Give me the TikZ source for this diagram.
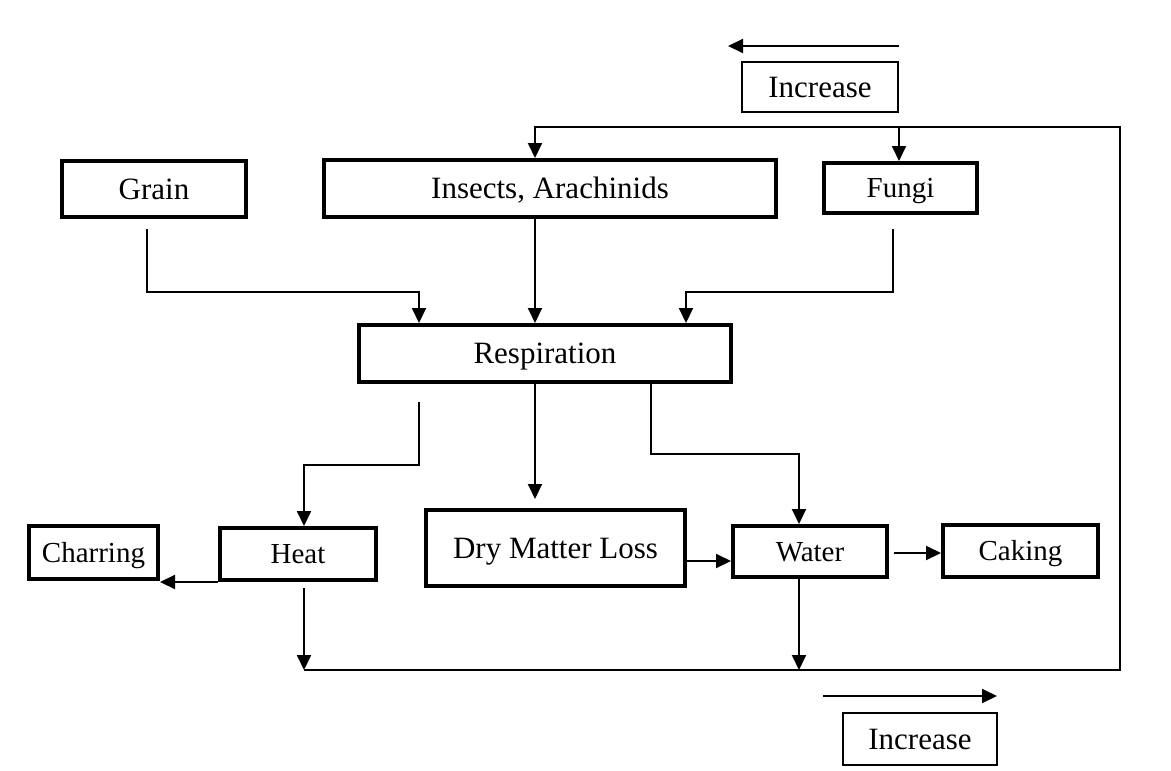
\documentclass[tikz,border=0pt]{standalone}
\usepackage{fontspec}
\setmainfont{Liberation Serif}
\usetikzlibrary{arrows.meta,calc}
\begin{document}
\begin{tikzpicture}[x=1pt,y=-1pt,
  box/.style={draw,line width=4pt,inner sep=0pt,font=\fontsize{31}{31}\selectfont,text height=20.5pt,text depth=0pt},
  sbox/.style={box,font=\fontsize{29}{29}\selectfont,text height=19.2pt},
  ibox/.style={draw,line width=2.5pt,inner sep=0pt,font=\fontsize{31}{31}\selectfont,text height=20.5pt,text depth=0pt},
  link/.style={line width=2pt},
  arr/.style={link,-{Triangle[length=15pt,width=14pt]}}]
\useasboundingbox[fill=white] (0,0) rectangle (1171,771);
% boxes
\node[ibox,minimum width=156pt,minimum height=50pt] (inctop) at (820,87) {Increase};
\node[box,minimum width=184pt,minimum height=56pt] (grain) at (154,189) {Grain};
\node[box,minimum width=452pt,minimum height=57pt] (ins) at (550,188.5) {Insects, Arachinids};
\node[sbox,minimum width=153pt,minimum height=50pt] (fungi) at (900.5,188) {Fungi};
\node[box,minimum width=372pt,minimum height=57pt] (resp) at (545,353.5) {Respiration};
\node[sbox,minimum width=129pt,minimum height=53pt] (char) at (93.5,552.5) {Charring};
\node[sbox,minimum width=156pt,minimum height=52pt] (heat) at (298,554) {Heat};
\node[box,minimum width=259pt,minimum height=76pt] (dml) at (555.5,548) {Dry Matter Loss};
\node[sbox,minimum width=154pt,minimum height=51pt] (water) at (810,551.5) {Water};
\node[sbox,minimum width=155pt,minimum height=52pt] (caking) at (1020.5,551) {Caking};
\node[ibox,minimum width=154pt,minimum height=52pt] (incbot) at (920,739) {Increase};
% coordinates
\coordinate (gs) at (147,229);
\coordinate (gt) at (419,292);
\coordinate (fs) at (893,229);
\coordinate (ft) at (686,292);
\coordinate (x535) at (535,0);
\coordinate (hs) at (419,402);
\coordinate (hm) at (304,465);
\coordinate (ws) at (651,0);
\coordinate (wm) at (799,454);
\coordinate (dw) at (0,561);
\coordinate (wc) at (894,553);
\coordinate (bl) at (304,670);
\coordinate (wb) at (799,670);
\coordinate (lp1) at (1120,670);
\coordinate (lp2) at (1120,127);
\coordinate (tl) at (535,127);
\coordinate (tf) at (899,127);
\coordinate (ta1) at (899,46);
\coordinate (ta2) at (728,46);
\coordinate (ba1) at (823,696);
\coordinate (ba2) at (997,696);
% connectors
\draw[arr] (gs) |- (gt) -- (gt |- resp.north);
\draw[arr] (ins.south -| x535) -- (resp.north -| x535);
\draw[arr] (fs) |- (ft) -- (ft |- resp.north);
\draw[arr] (hs) |- (hm) -- (hm |- heat.north);
\draw[arr,shorten >=9pt] (resp.south -| x535) -- (dml.north -| x535);
\draw[arr] (resp.south -| ws) |- (wm) -- (wm |- water.north);
\draw[arr] (dml.east |- dw) -- (water.west |- dw);
\draw[arr] (wc) -- (wc -| caking.west);
\draw[arr] (heat.south west) -- (heat.south west -| char.east);
\draw[arr] ($(heat.south -| bl)+(0,6)$) -- (bl);
\draw[arr] (water.south -| wb) -- (wb);
\draw[arr] (bl) -- (lp1) -- (lp2) -- (tl) -- (tl |- ins.north);
\draw[arr] (tf) -- (tf |- fungi.north);
\draw[arr] (ta1) -- (ta2);
\draw[arr] (ba1) -- (ba2);
\end{tikzpicture}
\end{document}
